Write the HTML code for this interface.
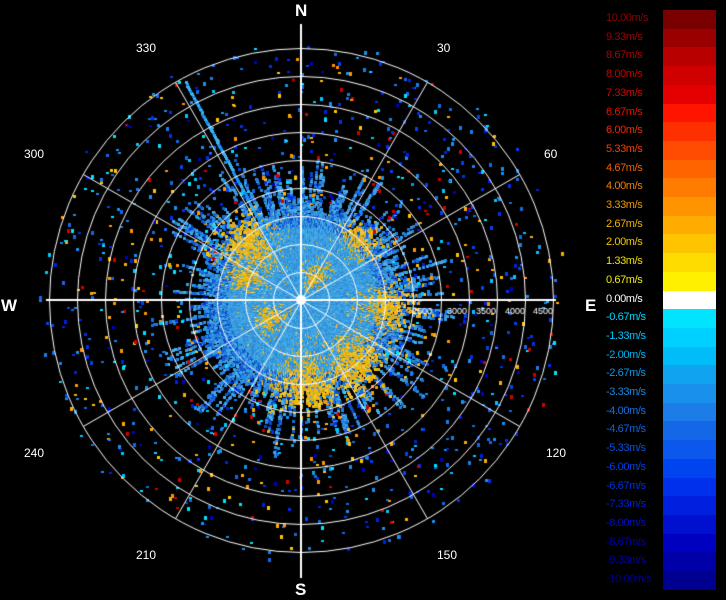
<!DOCTYPE html>
<html><head><meta charset="utf-8"><style>
html,body{margin:0;padding:0;background:#000;width:726px;height:600px;overflow:hidden;font-family:"Liberation Sans",sans-serif}
#c{position:absolute;left:0;top:0}
.t{position:absolute;color:#fff;font-size:12px;white-space:nowrap}
.cd{position:absolute;font-weight:bold;font-size:17px;color:#fff}
.lb{position:absolute;left:606px;font-size:11px;letter-spacing:-0.4px;white-space:nowrap}
.bd{position:absolute;left:663px;width:53px}
</style></head><body>
<canvas id="c" width="726" height="600"></canvas>
<div class="cd" style="left:295px;top:1px">N</div>
<div class="cd" style="left:295px;top:580px">S</div>
<div class="cd" style="left:1px;top:296px">W</div>
<div class="cd" style="left:585px;top:296px">E</div>
<div class="t" style="left:136px;top:41px">330</div>
<div class="t" style="left:437px;top:41px">30</div>
<div class="t" style="left:24px;top:147px">300</div>
<div class="t" style="left:544px;top:147px">60</div>
<div class="t" style="left:24px;top:446px">240</div>
<div class="t" style="left:546px;top:446px">120</div>
<div class="t" style="left:136px;top:548px">210</div>
<div class="t" style="left:437px;top:548px">150</div>
<div id="bar"></div>
<script>
var cols=["#7a0000","#9a0000","#b80000","#d00000","#e40000","#ff1400","#ff3000","#ff4c00","#ff6400","#ff7c00","#ff9400","#ffac00","#ffc400","#ffdc00","#fff000","#ffffff","#00e4ff","#00d0ff","#00bcf8","#10a4f0","#1890ec","#1c7ce8","#1468e8","#0c58ec","#0044f0","#0030ec","#0020e0","#0010d0","#0000c0","#0000a8","#000090"];
var lab=["10.00","9.33","8.67","8.00","7.33","6.67","6.00","5.33","4.67","4.00","3.33","2.67","2.00","1.33","0.67","0.00","-0.67","-1.33","-2.00","-2.67","-3.33","-4.00","-4.67","-5.33","-6.00","-6.67","-7.33","-8.00","-8.67","-9.33","-10.00"];
var lc=["#900000","#a00000","#b40000","#c80000","#d80000","#e81000","#f02800","#f04000","#f06000","#f08000","#f09800","#f0b000","#f0c800","#f0e000","#f0f000","#ffffff","#00d8ff","#00c4ff","#00b0f0","#1098e8","#1888e8","#1870e0","#1060e0","#0850e0","#0040e0","#0030d8","#0020d0","#0010c0","#0000b0","#0000a0","#000090"];
var h="";
for(var i=0;i<31;i++){var y=10+i*18.7;
h+='<div class="bd" style="top:'+y.toFixed(1)+'px;height:19px;background:'+cols[i]+'"></div>';
h+='<div class="lb" style="top:'+(y+2).toFixed(1)+'px;color:'+lc[i]+'">'+lab[i]+'m/s</div>';}
document.getElementById('bar').innerHTML=h;
var c=document.getElementById('c').getContext('2d');
var cx=301,cy=300,R=252;
var s=12345;function rnd(){s=(s*1103515245+12345)&0x7fffffff;return s/0x7fffffff;}
function pt(r,a,col,w,hh){var x=cx+r*Math.sin(a),y=cy-r*Math.cos(a);c.fillStyle=col;c.fillRect(Math.round(x),Math.round(y),w,hh);}
var D=Math.PI/180;
var patches=[[318,78,12,20],[45,85,9,10],[95,88,9,18],[140,85,14,22],[178,88,14,22],[245,35,12,10],[30,25,12,12],[295,60,8,12]];
function yel(a,r){var v=0;for(var k=0;k<patches.length;k++){var p=patches[k];var da=Math.abs(((a/D-p[0])+540)%360-180);v=Math.max(v,Math.exp(-da*da/(2*p[2]*p[2])-(r-p[1])*(r-p[1])/(2*p[3]*p[3])));}return v;}
var blues=["#3aa0e0","#40a8e6","#3490d8","#48b0ea","#2c88d4","#3c9ce0"];
var yels=["#f0c000","#e0b020","#f0b000","#d8a830","#f0c840"];
// dense blob
for(var a=0;a<360;a+=0.7){var ang=a*D;var ext=80+rnd()*30;if(rnd()<0.35)ext+=rnd()*55;
for(var r=4;r<ext;r+=2){var yy=yel(ang,r);var col;
if(rnd()<yy*0.95)col=yels[Math.floor(rnd()*yels.length)];
else if(r>75&&rnd()<0.45)col=["#1c6ed8","#1058d0","#2a80e0","#0c48c8"][Math.floor(rnd()*4)];
else col=blues[Math.floor(rnd()*blues.length)];
if(r>85&&rnd()<0.3)continue;
pt(r,ang,col,3,3);}}
// scattered dots
var sc=["#00c8ff","#1890ec","#1468e8","#0044f0","#0020e0","#1c7ce8","#0030ec","#ffc400","#ff9400","#00e4ff","#0000c0","#1890ec","#d00000","#ffac00","#1468e8"];
for(var i=0;i<1300;i++){var r=95+Math.pow(rnd(),0.9)*170;var ang=rnd()*2*Math.PI;
if(r>R+5&&rnd()<0.75)continue;
pt(r,ang,sc[Math.floor(rnd()*sc.length)],3,2+Math.floor(rnd()*3));}
// streak NW
for(var r=60;r<250;r+=2){pt(r,332*D,rnd()<0.5?"#1890ec":"#44b0ee",3,3);}
// grid
c.strokeStyle="#fff";c.lineWidth=1;
for(var k=1;k<=9;k++){c.beginPath();c.arc(cx+0.5,cy+0.5,k*28,0,2*Math.PI);c.stroke();}
for(var a=30;a<360;a+=30){if(a%90==0)continue;c.beginPath();c.moveTo(cx+0.5,cy+0.5);c.lineTo(cx+0.5+R*Math.sin(a*D),cy+0.5-R*Math.cos(a*D));c.stroke();}
c.lineWidth=2;c.beginPath();c.moveTo(46,cy);c.lineTo(556,cy);c.moveTo(cx,24);c.lineTo(cx,578);c.stroke();
c.fillStyle="#fff";c.beginPath();c.arc(cx,cy,5,0,7);c.fill();
c.fillStyle="#fff";c.font="9px Liberation Sans";
var rl=[[2500,412],[3000,447],[3500,476],[4000,505],[4500,533]];
for(var i=0;i<rl.length;i++)c.fillText(rl[i][0],rl[i][1],314);
</script>
</body></html>
